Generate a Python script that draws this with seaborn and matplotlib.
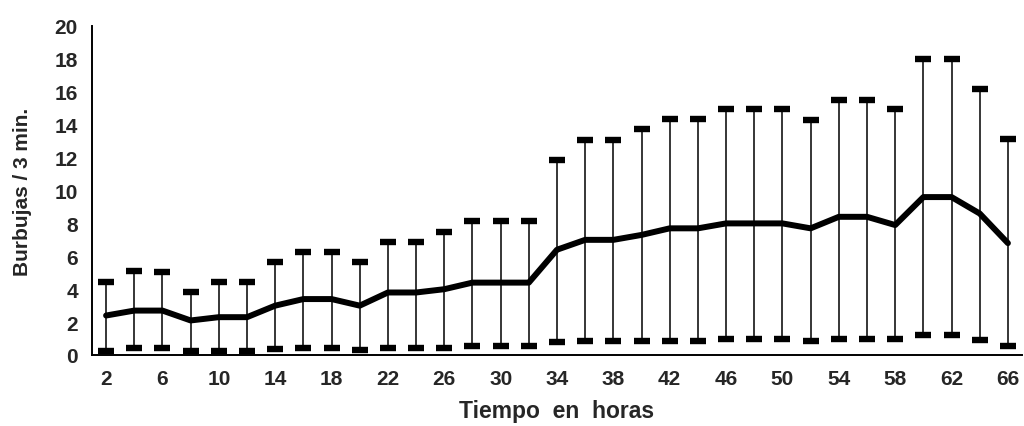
import matplotlib
matplotlib.use("Agg")
import matplotlib.pyplot as plt
import seaborn as sns
import pandas as pd

# Bubble counts per 3 minutes over time: mean with lower/upper bounds
hours = [2, 4, 6, 8, 10, 12, 14, 16, 18, 20, 22, 24, 26, 28, 30, 32, 34,
         36, 38, 40, 42, 44, 46, 48, 50, 52, 54, 56, 58, 60, 62, 64, 66]
mean = [2.4, 2.7, 2.7, 2.1, 2.3, 2.3, 3.0, 3.4, 3.4, 3.0, 3.8, 3.8, 4.0,
        4.4, 4.4, 4.4, 6.4, 7.0, 7.0, 7.3, 7.7, 7.7, 8.0, 8.0, 8.0, 7.7,
        8.4, 8.4, 7.9, 9.6, 9.6, 8.6, 6.8]
upper = [4.45, 5.1, 5.05, 3.8, 4.45, 4.45, 5.65, 6.25, 6.25, 5.65, 6.85,
         6.85, 7.45, 8.15, 8.15, 8.15, 11.85, 13.05, 13.05, 13.75, 14.35,
         14.35, 14.95, 14.95, 14.95, 14.3, 15.5, 15.5, 14.95, 18.0, 18.0,
         16.2, 13.15]
lower = [0.25, 0.4, 0.4, 0.25, 0.25, 0.25, 0.35, 0.45, 0.45, 0.3, 0.45,
         0.45, 0.45, 0.55, 0.55, 0.55, 0.8, 0.85, 0.85, 0.85, 0.85, 0.85,
         1.0, 1.0, 1.0, 0.85, 0.95, 0.95, 0.95, 1.2, 1.2, 0.9, 0.55]

y_ticks = [0, 2, 4, 6, 8, 10, 12, 14, 16, 18, 20]
x_labels = [2, 6, 10, 14, 18, 22, 26, 30, 34, 38, 42, 46, 50, 54, 58, 62, 66]

df = pd.DataFrame({"hora": hours, "media": mean, "sup": upper, "inf": lower})

sns.set_style("white")
plt.rcParams["font.family"] = ["Liberation Sans", "DejaVu Sans"]
plt.rcParams["font.weight"] = "bold"

fig = plt.figure(figsize=(10.24, 4.27), dpi=100)
ax = fig.add_axes([92 / 1024, 71 / 427, 930 / 1024, 329 / 427])

# vertical range bars with thick caps
ax.errorbar(df["hora"], df["media"],
            yerr=[df["media"] - df["inf"], df["sup"] - df["media"]],
            fmt="none", ecolor="black", elinewidth=1.1,
            capsize=6, capthick=4.6, zorder=2)

# mean line
sns.lineplot(data=df, x="hora", y="media", color="black", linewidth=4.3,
             ax=ax, zorder=3, solid_joinstyle="round")

ax.set_xlim(hours[0] - 1, hours[-1] + 1)
ax.set_ylim(0, 20)

# category-style axis: ticks sit between points, labels on every other point
step = hours[1] - hours[0]
ax.set_xticks([h - step / 2 for h in hours] + [hours[-1] + step / 2])
ax.set_xticklabels([])
ax.set_xticks(x_labels, minor=True)
ax.set_xticklabels([str(v) for v in x_labels], minor=True,
                   fontsize=15, fontweight="bold")
ax.tick_params(axis="x", which="major", direction="inout", length=7,
               width=1.1, color="black")
ax.tick_params(axis="x", which="minor", length=0, pad=10)

ax.set_yticks(y_ticks)
ax.set_yticklabels([str(v) for v in y_ticks], fontsize=15, fontweight="bold")
ax.tick_params(axis="y", direction="inout", length=8.5, width=1.1,
               color="black", pad=6)

for side in ("top", "right"):
    ax.spines[side].set_visible(False)
for side in ("left", "bottom"):
    ax.spines[side].set_color("black")
    ax.spines[side].set_linewidth(1.4)

ax.set_xlabel("Tiempo  en  horas", fontsize=16.5, fontweight="bold", labelpad=8)
ax.set_ylabel("Burbujas / 3 min.", fontsize=15, fontweight="bold", labelpad=16)

fig.savefig("out.png", dpi=100)
